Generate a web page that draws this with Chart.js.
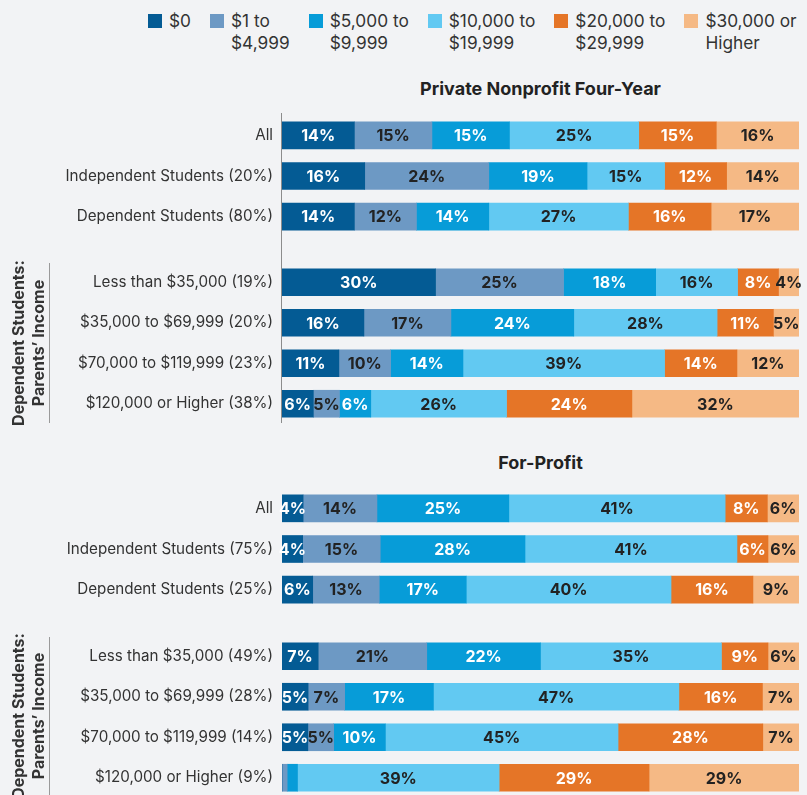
<!DOCTYPE html>
<html>
<head>
<meta charset="utf-8">
<script src="https://cdn.jsdelivr.net/npm/chart.js@4.4.1/dist/chart.umd.min.js"></script>
<style>
  body { margin: 0; background: #f2f3f5; font-family: Inter, "Liberation Sans", Arial, sans-serif; }
  #page { position: relative; width: 807px; height: 795px; overflow: hidden; }
  .legend { position: absolute; left: 148px; top: 10px; display: flex; gap: 19px; font-size: 17.3px; line-height: 22px; color: #333; white-space: nowrap; }
  .legend .item { display: flex; align-items: flex-start; }
  .legend .sw { width: 14px; height: 14px; margin-top: 4px; margin-right: 7px; }
  .title { position: absolute; left: 282px; width: 517px; text-align: center; font-weight: bold; font-size: 18px; line-height: 20px; color: #222; }
  .box { position: absolute; left: 0; }
  .axisline { position: absolute; left: 281px; width: 1px; background: #8c8c8c; }
  .bracket { position: absolute; left: 49px; width: 1px; background: #9a9a9a; }
  .side { position: absolute; left: 28px; width: 200px; text-align: center; font-weight: bold; font-size: 16px; line-height: 20px; color: #333; transform: translate(-50%, -50%) rotate(-90deg); }
</style>
</head>
<body>
<div id="page">
  <div class="legend" id="legend"></div>

  <div class="title" style="top:79px">Private Nonprofit Four-Year</div>
  <div class="axisline" style="top:113px;height:310px"></div>
  <div class="box" style="top:115px"><canvas id="pnpTop" width="807" height="122"></canvas></div>
  <div class="box" style="top:262px"><canvas id="pnpBottom" width="807" height="162"></canvas></div>
  <div class="bracket" style="top:263px;height:160px"></div>
  <div class="side" style="top:343px">Dependent Students:<br>Parents’ Income</div>

  <div class="title" style="top:453px">For-Profit</div>
  <div class="box" style="top:488px"><canvas id="fpTop" width="807" height="122"></canvas></div>
  <div class="box" style="top:636px"><canvas id="fpBottom" width="807" height="162"></canvas></div>
  <div class="bracket" style="top:637px;height:160px"></div>
  <div class="side" style="top:716px">Dependent Students:<br>Parents’ Income</div>
</div>

<script>
// series (loan amount bands)
const seriesNames = [['$0'], ['$1 to', '$4,999'], ['$5,000 to', '$9,999'], ['$10,000 to', '$19,999'], ['$20,000 to', '$29,999'], ['$30,000 or', 'Higher']];
const seriesColors = ['#045b94', '#6d99c4', '#079cd8', '#62c9f2', '#e57527', '#f5b985'];
const labelColors = ['#ffffff', '#222222', '#ffffff', '#222222', '#ffffff', '#222222'];

// Private Nonprofit Four-Year
const pnpTopCats = ['All', 'Independent Students (20%)', 'Dependent Students (80%)'];
const pnpTopValues = [
  [14, 15, 15, 25, 15, 16],
  [16, 24, 19, 15, 12, 14],
  [14, 12, 14, 27, 16, 17]
];
const pnpIncomeCats = ['Less than $35,000 (19%)', '$35,000 to $69,999 (20%)', '$70,000 to $119,999 (23%)', '$120,000 or Higher (38%)'];
const pnpIncomeValues = [
  [30, 25, 18, 16, 8, 4],
  [16, 17, 24, 28, 11, 5],
  [11, 10, 14, 39, 14, 12],
  [6, 5, 6, 26, 24, 32]
];

// For-Profit
const fpTopCats = ['All', 'Independent Students (75%)', 'Dependent Students (25%)'];
const fpTopValues = [
  [4, 14, 25, 41, 8, 6],
  [4, 15, 28, 41, 6, 6],
  [6, 13, 17, 40, 16, 9]
];
const fpIncomeCats = ['Less than $35,000 (49%)', '$35,000 to $69,999 (28%)', '$70,000 to $119,999 (14%)', '$120,000 or Higher (9%)'];
const fpIncomeValues = [
  [7, 21, 22, 35, 9, 6],
  [5, 7, 17, 47, 16, 7],
  [5, 5, 10, 45, 28, 7],
  [0, 1, 2, 39, 29, 29]
];

// legend
const legendEl = document.getElementById('legend');
seriesNames.forEach((lines, i) => {
  const item = document.createElement('div');
  item.className = 'item';
  item.innerHTML = `<div class="sw" style="background:${seriesColors[i]}"></div><div>${lines.join('<br>')}</div>`;
  legendEl.appendChild(item);
});

const barLabels = {
  id: 'barLabels',
  afterDatasetsDraw(chart) {
    const ctx = chart.ctx;
    ctx.save();
    ctx.font = 'bold 16px Inter, "Liberation Sans", Arial, sans-serif';
    ctx.textAlign = 'center';
    ctx.textBaseline = 'middle';
    chart.data.datasets.forEach((ds, i) => {
      chart.getDatasetMeta(i).data.forEach((bar, j) => {
        const v = ds.printed[j];
        if (v < 3) return;
        ctx.fillStyle = labelColors[i];
        ctx.fillText(v + '%', (bar.x + bar.base) / 2, bar.y + 1);
      });
    });
    ctx.restore();
  }
};

function makeChart(id, cats, rows) {
  // each row is scaled to a full bar, the printed shares stay as labels
  const sums = rows.map(r => r.reduce((a, b) => a + b, 0));
  const datasets = seriesNames.map((name, s) => ({
    label: name.join(' '),
    data: rows.map((r, k) => r[s] / sums[k] * 100),
    printed: rows.map(r => r[s]),
    backgroundColor: seriesColors[s],
    borderWidth: 0,
    barThickness: 27
  }));
  return new Chart(document.getElementById(id), {
    type: 'bar',
    data: { labels: cats, datasets: datasets },
    options: {
      indexAxis: 'y',
      responsive: false,
      animation: false,
      devicePixelRatio: 1,
      layout: { autoPadding: false, padding: { left: 0, right: 8, top: 0, bottom: 0 } },
      scales: {
        x: { stacked: true, min: 0, max: 100, display: false },
        y: {
          stacked: true,
          grid: { display: false, drawTicks: false },
          border: { display: false },
          ticks: { color: '#333', font: { family: 'Inter, "Liberation Sans", Arial, sans-serif', size: 15.2 }, padding: 9 },
          afterFit(scale) {
            scale.width = 282;
            scale.paddingTop = 0;
            scale.paddingBottom = 0;
          }
        }
      },
      plugins: { legend: { display: false }, tooltip: { enabled: false } }
    },
    plugins: [barLabels]
  });
}

makeChart('pnpTop', pnpTopCats, pnpTopValues);
makeChart('pnpBottom', pnpIncomeCats, pnpIncomeValues);
makeChart('fpTop', fpTopCats, fpTopValues);
makeChart('fpBottom', fpIncomeCats, fpIncomeValues);
</script>
</body>
</html>
